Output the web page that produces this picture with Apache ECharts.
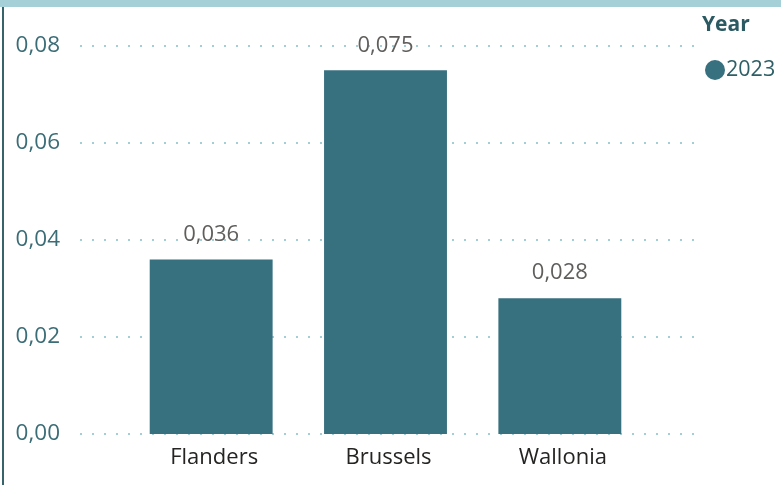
<!DOCTYPE html>
<html>
<head>
<meta charset="utf-8">
<script src="https://cdn.jsdelivr.net/npm/echarts@6/dist/echarts.min.js"></script>
<style>
  html, body { margin: 0; padding: 0; background: #fff; }
  #main { width: 781px; height: 485px; }
</style>
</head>
<body>
<div id="main"></div>
<script>
var regions = ['Flanders', 'Brussels', 'Wallonia'];
var values2023 = [0.036, 0.075, 0.028];
var seriesName = '2023';
var legendTitle = 'Year';

var fontFam = '"Open Sans", sans-serif';
function comma(v, d) {
    return v.toFixed(d).replace('.', ',');
}

var myChart = echarts.init(document.getElementById('main'));
var option = {
    animation: false,
    title: {
        text: legendTitle,
        left: 697,
        top: 10,
        textStyle: { color: '#2b5a62', fontSize: 21, fontWeight: 'bold', fontFamily: fontFam }
    },
    legend: {
        data: [seriesName],
        left: 700,
        top: 54,
        icon: 'circle',
        itemWidth: 20,
        itemHeight: 20,
        itemGap: 4,
        textStyle: { color: '#2f5f66', fontSize: 21.5, fontFamily: fontFam, padding: [0, 0, 0, -4] }
    },
    grid: [
        // grid for gridlines and y labels
        { left: 80, right: 87, top: 46, bottom: 51 },
        // grid for bars
        { left: 124, right: 134, top: 46, bottom: 51 }
    ],
    xAxis: [
        { gridIndex: 0, type: 'value', min: 0, max: 1, show: false },
        {
            gridIndex: 1,
            type: 'category',
            data: regions,
            axisLine: { show: false },
            axisTick: { show: false },
            axisLabel: { color: '#252423', fontSize: 22, fontFamily: fontFam, margin: 13, padding: [0, 0, 0, 6] }
        }
    ],
    yAxis: [
        {
            gridIndex: 0,
            type: 'value',
            min: 0,
            max: 0.08,
            interval: 0.02,
            axisLine: { show: false },
            axisTick: { show: false },
            axisLabel: {
                color: '#3b6d77',
                fontSize: 22.5,
                fontFamily: fontFam,
                margin: 20,
                formatter: function (v) { return comma(v, 2); }
            },
            splitLine: { lineStyle: { color: '#a3ced6', width: 2, type: [2, 10] } }
        },
        { gridIndex: 1, type: 'value', min: 0, max: 0.08, show: false }
    ],
    series: [{
        name: seriesName,
        type: 'bar',
        xAxisIndex: 1,
        yAxisIndex: 1,
        data: values2023,
        barWidth: '70.5%',
        itemStyle: { color: '#37707f' },
        label: {
            show: true,
            position: 'top',
            distance: 14,
            color: '#605e5c',
            fontSize: 22,
            fontFamily: fontFam,
            formatter: function (p) { return comma(p.value, 3); }
        }
    }],
    graphic: [
        { type: 'rect', shape: { x: 0, y: 0, width: 781, height: 7 }, style: { fill: '#a6d0d8' } },
        { type: 'rect', shape: { x: 2, y: 7, width: 2, height: 478 }, style: { fill: '#37636b' } }
    ]
};
myChart.setOption(option);
</script>
</body>
</html>
